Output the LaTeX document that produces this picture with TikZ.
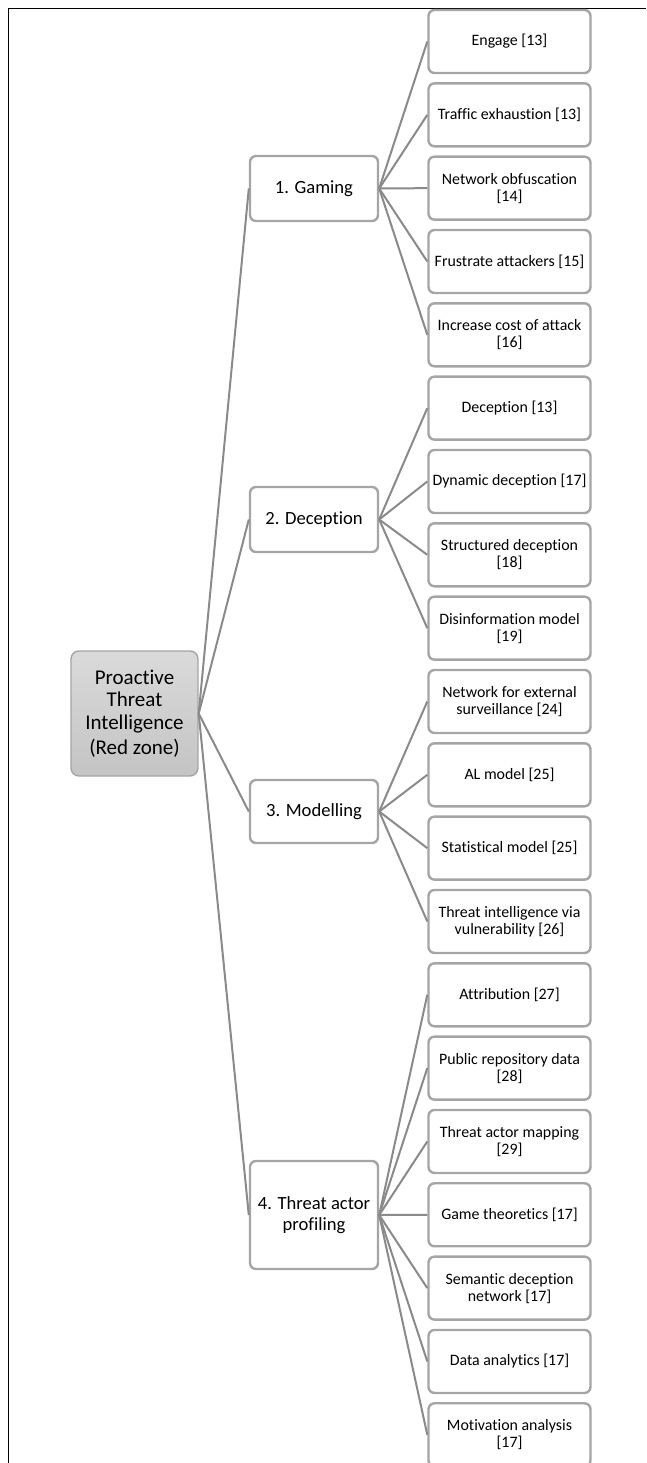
\documentclass[tikz,border=0pt]{standalone}
\usepackage{fontspec}
\setmainfont{Carlito}[Ligatures=NoCommon]
\begin{document}
\begin{tikzpicture}[x=1pt,y=-1pt,
  leaf/.style={draw=boxgray, line width=2.4pt, rounded corners=6pt, fill=white,
    minimum width=162pt, minimum height=63pt, inner sep=1pt, align=center,
    font=\fontsize{15.9}{17}\selectfont},
  mid/.style={draw=boxgray, line width=2.4pt, rounded corners=6pt, fill=white,
    minimum width=128pt, inner sep=1pt, align=center,
    font=\fontsize{18.6}{21}\selectfont},
  rootbox/.style={draw=boxgray, line width=1.4pt, rounded corners=8pt,
    top color=rootlight, bottom color=rootdark,
    minimum width=127pt, minimum height=125pt, inner sep=1pt, align=center,
    font=\fontsize{21}{22.5}\selectfont},
  link/.style={draw=linegray, line width=2pt}]
\definecolor{boxgray}{RGB}{165,165,165}
\definecolor{linegray}{RGB}{138,138,138}
\definecolor{rootlight}{RGB}{218,218,218}
\definecolor{rootdark}{RGB}{196,196,196}
\useasboundingbox (0,0) rectangle (646,1463);
\draw[black, line width=1pt] (646,9) -- (8,9) -- (8,1470);

% root
\node[rootbox] (root) at (134.5,713.5) {Proactive\\Threat\\Intelligence\\[3pt](Red zone)};

% middle level
\node[mid, minimum height=65pt] (m1) at (314,188.5) {1. Gaming};
\node[mid, minimum height=65pt] (m2) at (314,519.5) {2. Deception};
\node[mid, minimum height=63pt] (m3) at (314,811.5) {3. Modelling};
\node[mid, minimum height=108pt] (m4) at (314,1215) {4. Threat actor\\profiling};

% leaves
\foreach \i/\t in {
  1/{Engage [13]},
  2/{Traffic exhaustion [13]},
  3/{Network obfuscation\\{[14]}},
  4/{Frustrate attackers [15]},
  5/{Increase cost of attack\\{[16]}},
  6/{Deception [13]},
  7/{Dynamic deception [17]},
  8/{Structured deception\\{[18]}},
  9/{Disinformation model\\{[19]}},
  10/{Network for external\\surveillance [24]},
  11/{AL model [25]},
  12/{Statistical model [25]},
  13/{Threat intelligence via\\vulnerability [26]},
  14/{Attribution [27]},
  15/{Public repository data\\{[28]}},
  16/{Threat actor mapping\\{[29]}},
  17/{Game theoretics [17]},
  18/{Semantic deception\\network [17]},
  19/{Data analytics [17]},
  20/{Motivation analysis\\{[17]}}}{
  \node[leaf] (l\i) at (509.5, {41.5+(\i-1)*73.33}) {\t};
}

% connectors
\foreach \m in {1,2,3,4} { \path[link] (root.east) -- (m\m.west); }
\foreach \l in {1,...,5} { \path[link] (m1.east) -- (l\l.west); }
\foreach \l in {6,...,9} { \path[link] (m2.east) -- (l\l.west); }
\foreach \l in {10,...,13} { \path[link] (m3.east) -- (l\l.west); }
\foreach \l in {14,...,20} { \path[link] (m4.east) -- (l\l.west); }
\end{tikzpicture}
\end{document}
